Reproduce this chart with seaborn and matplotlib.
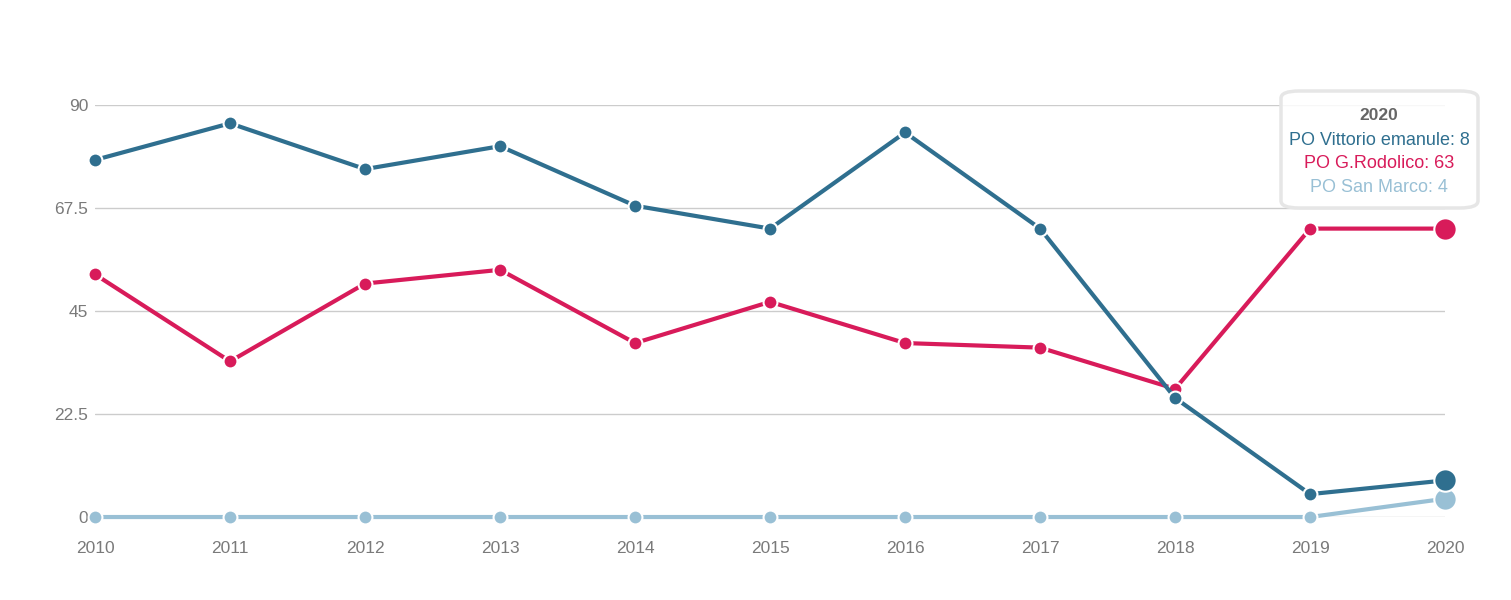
import matplotlib.pyplot as plt
import seaborn as sns
import pandas as pd
from matplotlib.patches import FancyBboxPatch

years = [2010, 2011, 2012, 2013, 2014, 2015, 2016, 2017, 2018, 2019, 2020]
vittorio = [78, 86, 76, 81, 68, 63, 84, 63, 26, 5, 8]
rodolico = [53, 34, 51, 54, 38, 47, 38, 37, 28, 63, 63]
san_marco = [0, 0, 0, 0, 0, 0, 0, 0, 0, 0, 4]
series_names = ['PO Vittorio emanule', 'PO G.Rodolico', 'PO San Marco']
colors = ['#2f6f8f', '#d81b5a', '#99c0d5']
y_ticks = [0, 22.5, 45, 67.5, 90]

df = pd.DataFrame({'year': years * 3,
                   'value': vittorio + rodolico + san_marco,
                   'series': [n for n in series_names for _ in years]})

sns.set_style('white')
plt.rcParams['font.family'] = ['Liberation Sans', 'DejaVu Sans']

fig = plt.figure(figsize=(15.11, 6), dpi=100)
ax = fig.add_axes([0.0629, 0.1383, 0.8935, 0.6867])

# draw series back to front (last one on bottom)
for name, col in reversed(list(zip(series_names, colors))):
    sub = df[df['series'] == name]
    sns.lineplot(data=sub, x='year', y='value', color=col, linewidth=3,
                 marker='o', markersize=10, markeredgecolor='white',
                 markeredgewidth=1.5, ax=ax, clip_on=False, legend=False)
    last = sub.iloc[-1]
    ax.scatter([last['year']], [last['value']], s=260, color=col,
               edgecolor='white', linewidth=1.5, zorder=5, clip_on=False)

ax.set_xlim(2010, 2020)
ax.set_ylim(0, 90)
ax.set_yticks(y_ticks)
ax.set_yticklabels(['0', '22.5', '45', '67.5', '90'])
ax.set_xticks(years)
ax.grid(axis='y', color='#cccccc', linewidth=1)
ax.set_axisbelow(True)
for s in ax.spines.values():
    s.set_visible(False)
ax.tick_params(axis='both', length=0, labelsize=12.5, labelcolor='#7a7a7a')
ax.tick_params(axis='x', pad=17)
ax.tick_params(axis='y', pad=5)
ax.set_xlabel('')
ax.set_ylabel('')

# tooltip box
box = FancyBboxPatch((1281 / 1511, 1 - 208 / 600), 197 / 1511, 117 / 600,
                     boxstyle='round,pad=0,rounding_size=0.012',
                     transform=fig.transFigure, facecolor=(1, 1, 1, 0.85),
                     edgecolor='#e6e6e6', linewidth=2.5, zorder=10)
fig.patches.append(box)
cx = 1379 / 1511
fig.text(cx, 1 - 116 / 600, '2020', ha='center', va='center', fontsize=12.5,
         fontweight='bold', color='#666666', zorder=11)
vals = [vittorio[-1], rodolico[-1], san_marco[-1]]
for i, (name, col, v) in enumerate(zip(series_names, colors, vals)):
    fig.text(cx, 1 - (140 + 23.5 * i) / 600, f'{name}: {v}', ha='center',
             va='center', fontsize=13, color=col, zorder=11)

fig.savefig('out.png', dpi=100)
